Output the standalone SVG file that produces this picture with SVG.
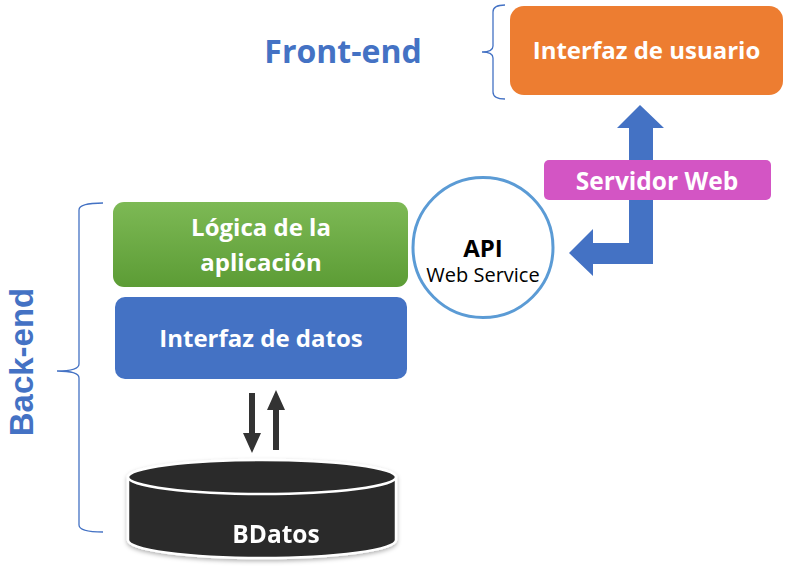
<svg xmlns="http://www.w3.org/2000/svg" width="786" height="574" viewBox="0 0 786 574">
<style>
.bt{font-family:"Open Sans","Liberation Sans",sans-serif;font-weight:bold;fill:#fff;text-anchor:middle}
.lbl{font-family:"Open Sans","Liberation Sans",sans-serif;font-weight:bold;fill:#4472C4}
.brace{fill:none;stroke:#4472C4;stroke-width:1.3}
.blk{fill:#333}
.blue{fill:#4472C4}
</style>
<defs>
<linearGradient id="g" x1="0" y1="0" x2="0" y2="1">
<stop offset="0" stop-color="#7DB955"/>
<stop offset="1" stop-color="#5C9C35"/>
</linearGradient>
<filter id="sh" x="-10%" y="-10%" width="120%" height="130%">
<feDropShadow dx="0" dy="2" stdDeviation="2" flood-color="#000" flood-opacity="0.3"/>
</filter>
</defs>
<rect width="786" height="574" fill="#fff"/>

<g id="labels">
<text class="lbl" x="343" y="63" font-size="32" text-anchor="middle">Front-end</text>
<text class="lbl" x="33" y="362" font-size="33" text-anchor="middle" transform="rotate(-90 33 362)" style="font-family:'Liberation Sans',Arial,sans-serif">Back-end</text>
<path class="brace" d="M505,5 Q493,5 493,12 L493,46 Q493,52 482,52 Q493,52 493,58 L493,92 Q493,99 505,99"/>
<path class="brace" d="M103,203 Q79,203 79,210 L79,364 Q79,371 57,371 Q79,371 79,378 L79,525 Q79,532 103,532"/>
</g>

<g id="connectors">
<path class="blue" d="M629,160 L629,128 L617,128 L640,105 L664,128 L653,128 L653,160 Z"/>
<path class="blue" d="M629,200 L653,200 L653,264 L593,264 L593,276 L569,253 L593,229 L593,243 L629,243 Z"/>
<path class="blk" d="M249,393 L255,393 L255,433 L261,433 L252,453 L243,433 L249,433 Z"/>
<path class="blk" d="M273,450 L279,450 L279,410 L285,410 L276,390 L267,410 L273,410 Z"/>
</g>

<g id="ui">
<rect x="510" y="6" width="273" height="89" rx="14" fill="#ED7D31"/>
<text class="bt" x="646.5" y="59" font-size="24">Interfaz de usuario</text>
</g>

<g id="servidor">
<rect x="544" y="160" width="227" height="40" rx="5" fill="#D355C4"/>
<text class="bt" x="657" y="190" font-size="24.5">Servidor Web</text>
</g>

<g id="api">
<circle cx="483" cy="247.5" r="70" fill="#fff" stroke="#5B9BD5" stroke-width="3"/>
<text x="483" y="257" font-size="24" font-weight="bold" text-anchor="middle" font-family="'Open Sans','Liberation Sans',sans-serif" fill="#000">API</text>
<text x="483" y="282" font-size="20" text-anchor="middle" font-family="'Open Sans','Liberation Sans',sans-serif" fill="#000">Web Service</text>
</g>

<g id="logica">
<rect x="113" y="202" width="295" height="85" rx="11" fill="url(#g)"/>
<text class="bt" x="261" y="236" font-size="24">Lógica de la</text>
<text class="bt" x="261" y="271" font-size="24">aplicación</text>
</g>

<g id="datos">
<rect x="115" y="297" width="292" height="82" rx="10" fill="#4472C4"/>
<text class="bt" x="261" y="347" font-size="24">Interfaz de datos</text>
</g>

<g id="bdatos" filter="url(#sh)">
<path d="M128,477 L128,540 A134,18 0 0 0 396,540 L396,477 Z" fill="#2B2B2B" stroke="#fff" stroke-width="2.5"/>
<ellipse cx="262" cy="477" rx="134" ry="17" fill="#2B2B2B" stroke="#fff" stroke-width="2.5"/>
<text class="bt" x="276" y="543" font-size="24.5">BDatos</text>
</g>
</svg>
